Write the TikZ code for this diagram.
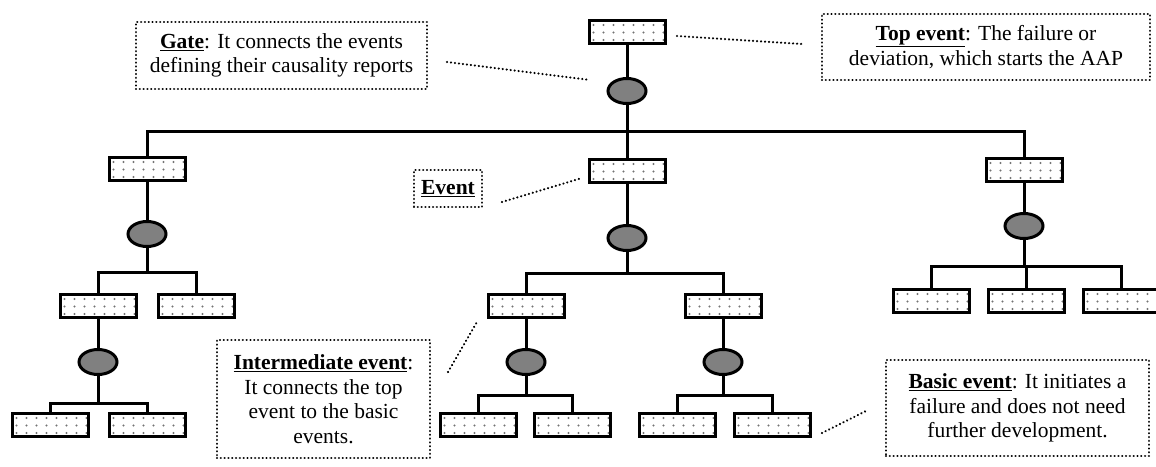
\documentclass[tikz,border=0pt]{standalone}
\usepackage{fontspec}
\setmainfont{Liberation Serif}
\usetikzlibrary{shapes.geometric,calc}
\tikzset{
  evbox/.style={draw, line width=3pt, fill=white, rectangle, minimum width=76pt, minimum height=23pt, inner sep=0pt,
    path picture={\foreach \i in {0,...,7} \foreach \j in {0,1,2}
      \fill[black!55] ($(path picture bounding box.north west)+(4.5+\i*10,4.5+\j*7.5)$) circle (1.2pt);}},
  gatenode/.style={draw, line width=3pt, fill=black!50, ellipse, minimum width=38pt, minimum height=25pt, inner sep=0pt},
  tree/.style={line width=3pt, line join=miter},
  note/.style={draw, line width=2.4pt, line cap=round, dash pattern=on 0.01pt off 3.8pt, align=center, inner sep=0pt, font=\fontsize{21.5}{24.5}\selectfont},
  noteline/.style={line width=2.4pt, line cap=round, dash pattern=on 0.01pt off 4pt}
}
\begin{document}
\begin{tikzpicture}[x=1pt,y=-1pt]
\useasboundingbox (0,0) rectangle (1156,466);
% bar levels
\coordinate (bar0) at (0,131);
\coordinate (barL) at (0,272);
\coordinate (barC) at (0,273);
\coordinate (barR) at (0,266);
\coordinate (barLL) at (0,403);
\coordinate (barCL) at (0,395);
\coordinate (barCR) at (0,395);
% top
\node[evbox] (top) at (627,32) {};
\node[gatenode] (g0) at (627,91) {};
% level 1
\node[evbox] (e1) at (147,169) {};
\node[evbox] (e2) at (627,171) {};
\node[evbox] (e3) at (1024,170) {};
\node[gatenode] (g1) at (147,234) {};
\node[gatenode] (g2) at (627,238) {};
\node[gatenode] (g3) at (1024,226) {};
% level 2 left
\node[evbox] (e11) at (98,306) {};
\node[evbox] (e12) at (196,306) {};
\node[gatenode] (g11) at (98,362) {};
\node[evbox] (e111) at (50,425) {};
\node[evbox] (e112) at (147,425) {};
% level 2 center
\node[evbox] (e21) at (526,306) {};
\node[evbox] (e22) at (723,306) {};
\node[gatenode] (g21) at (526,362) {};
\node[gatenode] (g22) at (723,362) {};
\node[evbox] (e211) at (478,425) {};
\node[evbox] (e212) at (572,425) {};
\node[evbox] (e221) at (677,425) {};
\node[evbox] (e222) at (772,425) {};
% level 2 right
\node[evbox] (e31) at (931,301) {};
\node[evbox] (e32) at (1026,301) {};
\node[evbox] (e33) at (1121,301) {};
% tree connectors
\begin{scope}[tree]
\draw (top.south) -- (g0.north);
\foreach \c in {e1,e2,e3} \draw (g0.south) -- (g0.south |- bar0) -| (\c.north);
\draw (e1.south) -- (g1.north);
\draw (e2.south) -- (g2.north);
\draw (e3.south) -- (g3.north);
\foreach \c in {e11,e12} \draw (g1.south) -- (g1.south |- barL) -| (\c.north);
\foreach \c in {e21,e22} \draw (g2.south) -- (g2.south |- barC) -| (\c.north);
\foreach \c in {e31,e32,e33} \draw (g3.south) -- (g3.south |- barR) -| (\c.north);
\draw (e11.south) -- (g11.north);
\draw (e21.south) -- (g21.north);
\draw (e22.south) -- (g22.north);
\foreach \c in {e111,e112} \draw (g11.south) -- (g11.south |- barLL) -| (\c.north);
\foreach \c in {e211,e212} \draw (g21.south) -- (g21.south |- barCL) -| (\c.north);
\foreach \c in {e221,e222} \draw (g22.south) -- (g22.south |- barCR) -| (\c.north);
\end{scope}
% notes
\node[note, minimum width=291pt, minimum height=67pt] (ngate) at (281.5,55.5)
  {\underline{\textbf{Gate}}: It connects the events\\defining their causality reports};
\node[note, minimum width=328pt, minimum height=66pt] (ntop) at (986,47)
  {\underline{\textbf{Top event}}: The failure or\\deviation, which starts the AAP};
\node[note, minimum width=68pt, minimum height=37pt] (nev) at (448,188.5)
  {\underline{\textbf{Event}}};
\node[note, minimum width=213pt, minimum height=118pt] (nint) at (323.5,399)
  {\underline{\textbf{Intermediate event}}:\\It connects the top\\event to the basic\\events.};
\node[note, minimum width=263pt, minimum height=96pt] (nbas) at (1017.5,408)
  {\underline{\textbf{Basic event}}: It initiates a\\failure and does not need\\further development.};
% note connectors
\coordinate (cgA) at (447,62);  \coordinate (cgB) at (590,80);
\coordinate (ctA) at (677,36);  \coordinate (ctB) at (802,44);
\coordinate (ceA) at (502,202); \coordinate (ceB) at (582,178);
\coordinate (ciA) at (448,372); \coordinate (ciB) at (477,322);
\coordinate (cbA) at (822,433); \coordinate (cbB) at (866,411);
\draw[noteline] (cgA) -- (cgB);
\draw[noteline] (ctA) -- (ctB);
\draw[noteline] (ceA) -- (ceB);
\draw[noteline] (ciA) -- (ciB);
\draw[noteline] (cbA) -- (cbB);
\end{tikzpicture}
\end{document}
